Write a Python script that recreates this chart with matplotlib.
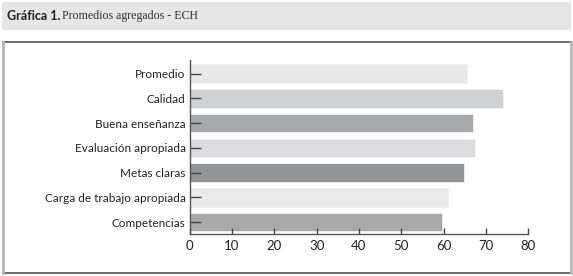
import matplotlib
matplotlib.use("Agg")
import matplotlib.pyplot as plt
from matplotlib.patches import Rectangle

# data
categorias = ["Promedio", "Calidad", "Buena enseñanza", "Evaluación apropiada",
              "Metas claras", "Carga de trabajo apropiada", "Competencias"]
valores = [65.6, 74.1, 67.0, 67.5, 64.7, 61.0, 59.6]
colores = ["#e8e8e9", "#d0d1d3", "#a8a9ab", "#dcdcde", "#939496", "#ebebeb", "#a8a9ab"]
xticks = [0, 10, 20, 30, 40, 50, 60, 70, 80]

fig = plt.figure(figsize=(5.73, 2.76), dpi=100)
W, H = 573, 276

# title band
fig.patches.append(Rectangle((2 / W, 1 - 30 / H), 569 / W, 28 / H, transform=fig.transFigure,
                             facecolor="#e6e6e6", edgecolor="none", zorder=0))
fig.text(7 / W, 1 - 16 / H, "Gráfica 1.", fontsize=9, family="Lato", fontweight="bold",
         color="#222222", va="center")
fig.text(62 / W, 1 - 16.5 / H, "Promedios agregados - ECH", fontsize=8.6, family="Liberation Serif",
         color="#333333", va="center")

# frame around the chart
fig.add_artist(plt.Line2D([3 / W, 570 / W], [1 - 42 / H, 1 - 42 / H], transform=fig.transFigure,
                          color="#555555", lw=1.2))
fig.add_artist(plt.Line2D([3 / W, 570 / W], [1 - 273 / H, 1 - 273 / H], transform=fig.transFigure,
                          color="#555555", lw=1.2))
fig.add_artist(plt.Line2D([2.5 / W, 2.5 / W], [1 - 42 / H, 1 - 273 / H], transform=fig.transFigure,
                          color="#b5b5b5", lw=2))
fig.add_artist(plt.Line2D([570.5 / W, 570.5 / W], [1 - 42 / H, 1 - 273 / H], transform=fig.transFigure,
                          color="#b5b5b5", lw=2))

ax = fig.add_axes([189.7 / W, 1 - 234.3 / H, (528.3 - 189.7) / W, (234.3 - 60) / H])
pos = list(range(len(categorias)))
ax.barh(pos, valores, height=0.745, color=colores, edgecolor="#f2f2f2", linewidth=0.6)
ax.set_ylim(6.49, -0.545)
ax.set_xlim(0, 80)
ax.set_xticks(xticks)
ax.set_yticks(pos)
ax.set_yticklabels(categorias)
for s in ["top", "right"]:
    ax.spines[s].set_visible(False)
for s in ["left", "bottom"]:
    ax.spines[s].set_color("#555555")
    ax.spines[s].set_linewidth(1)
ax.tick_params(axis="y", direction="in", length=8, width=1, color="#444444", pad=3,
               labelsize=8.5, labelcolor="#222222")
ax.tick_params(axis="x", direction="in", length=4, width=1, color="#444444", pad=4,
               labelsize=9.5, labelcolor="#222222")
for lab in ax.get_xticklabels() + ax.get_yticklabels():
    lab.set_family("Lato")

fig.savefig("out.png", dpi=100)
